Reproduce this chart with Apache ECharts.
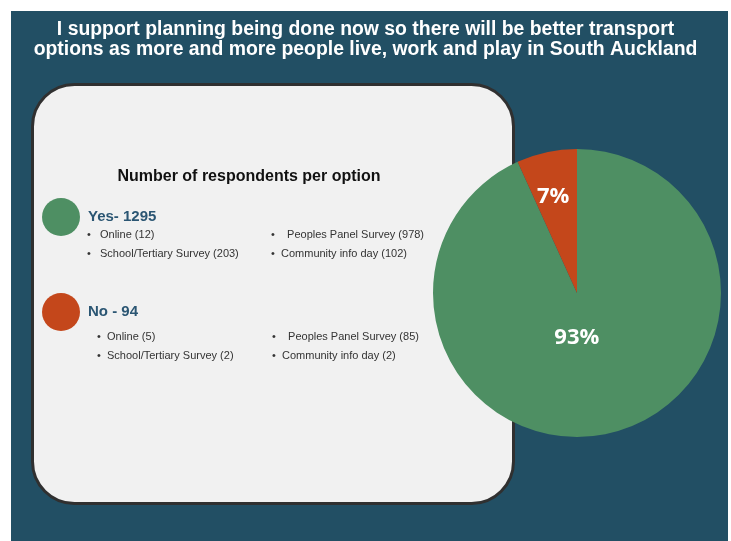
<!DOCTYPE html>
<html>
<head>
<meta charset="utf-8">
<script src="https://cdn.jsdelivr.net/npm/echarts@6/dist/echarts.min.js"></script>
<style>
  html, body { margin: 0; padding: 0; background: #ffffff; }
  #main { width: 731px; height: 541px; }
</style>
</head>
<body>
<div id="main"></div>
<script>
// data
var categories = ['Yes', 'No'];
var respondents = [1295, 94];
var labelSeparators = ['- ', ' - '];
var channels = ['Online', 'School/Tertiary Survey', ' Peoples Panel Survey', 'Community info day'];
var yesByChannel = [12, 203, 978, 102];
var noByChannel = [5, 2, 85, 2];
var colors = ['#4e8f63', '#c4471b'];

var titleText = 'I support planning being done now so there will be better transport\noptions as more and more people live, work and play in South Auckland';

var myChart = echarts.init(document.getElementById('main'));

// bullet lists (2 columns x 2 rows per answer)
function bulletList(values, top, leftCol, rightCol) {
  var out = [];
  channels.forEach(function (ch, i) {
    var col = i < 2 ? leftCol : rightCol;
    var row = i % 2;
    var y = top + row * 18.5;
    out.push({
      type: 'text', x: col[0] - 1, y: y,
      style: { text: '•', fontSize: 11, fill: '#333', textVerticalAlign: 'middle', fontFamily: 'Liberation Sans' }
    });
    out.push({
      type: 'text', x: col[1] - (i === 3 ? 3 : 0), y: y,
      style: { text: ch + ' (' + values[i] + ')', fontSize: 11, fill: '#333', textVerticalAlign: 'middle', fontFamily: 'Liberation Sans' }
    });
  });
  return out;
}

var graphics = [
  { type: 'rect', z: -10, shape: { x: 11, y: 11, width: 717, height: 530 }, style: { fill: '#224f64' } },
  { type: 'rect', z: -5, shape: { x: 32.5, y: 84.5, width: 481, height: 419, r: 42 },
    style: { fill: '#f1f1f1', stroke: '#303030', lineWidth: 3 } },
  { type: 'text', x: 249, y: 177,
    style: { text: 'Number of respondents per option', fontSize: 16, fontWeight: 'bold', fill: '#111',
             textAlign: 'center', textVerticalAlign: 'middle', fontFamily: 'Liberation Sans' } }
].concat(bulletList(yesByChannel, 235, [88, 100], [272, 284]))
 .concat(bulletList(noByChannel, 337, [98, 107], [273, 285]));

var option = {
  animation: false,
  color: colors,
  title: {
    text: titleText,
    left: 'center',
    top: 20,
    padding: 0,
    textStyle: { color: '#ffffff', fontSize: 19.4, fontWeight: 'bold', lineHeight: 19.5, fontFamily: 'Liberation Sans' }
  },
  legend: {
    data: categories,
    orient: 'vertical',
    left: 42,
    top: 198,
    padding: 0,
    itemWidth: 38,
    itemHeight: 38,
    itemGap: 57,
    icon: 'circle',
    selectedMode: false,
    formatter: function (name) {
      var i = categories.indexOf(name);
      return name + labelSeparators[i] + respondents[i];
    },
    textStyle: { color: '#2b5673', fontSize: 15, fontWeight: 'bold', fontFamily: 'Liberation Sans', padding: [0, 0, 4, 3] }
  },
  graphic: graphics,
  series: [
    {
      type: 'pie',
      center: [577, 293],
      radius: 144,
      startAngle: 90,
      clockwise: true,
      z: 5,
      data: categories.map(function (c, i) { return { name: c, value: respondents[i] }; }),
      label: {
        position: 'inside',
        formatter: function (p) { return Math.round(p.percent) + '%'; },
        color: '#ffffff',
        fontSize: 22,
        fontWeight: 'bold',
        fontFamily: 'Open Sans'
      },
      labelLayout: function (p) {
        return p.dataIndex === 0 ? { dx: -16, dy: -29 } : { dx: -8, dy: -23 };
      },
      labelLine: { show: false },
      itemStyle: { borderWidth: 0 },
      emphasis: { disabled: true }
    }
  ]
};

myChart.setOption(option);
</script>
</body>
</html>
